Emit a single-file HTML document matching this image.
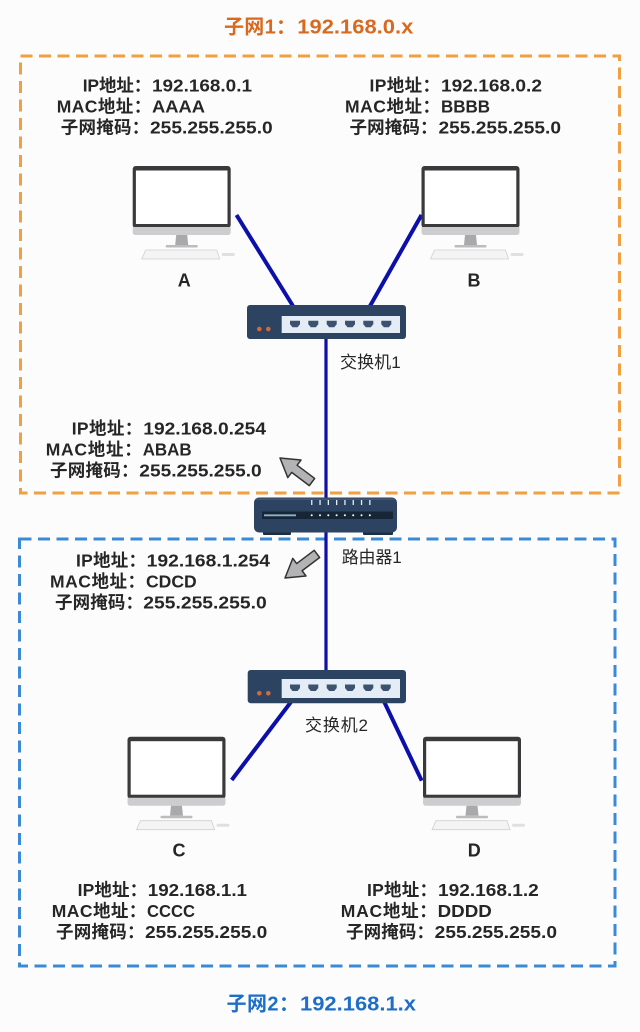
<!DOCTYPE html>
<html>
<head>
<meta charset="utf-8">
<style>
  html,body{margin:0;padding:0;background:#fdfcfd;}
  svg{display:block;}
  .t{font-family:"Liberation Sans","Noto Sans CJK SC",sans-serif;font-weight:bold;font-size:17.5px;fill:#262626;}
  .lbl{font-family:"Liberation Sans","Noto Sans CJK SC",sans-serif;font-weight:normal;font-size:17px;fill:#262626;}
  .big{font-family:"Liberation Sans","Noto Sans CJK SC",sans-serif;font-weight:bold;font-size:18px;fill:#262626;}
  .title{font-family:"Liberation Sans","Noto Sans CJK SC",sans-serif;font-weight:bold;font-size:20px;}
</style>
</head>
<body>
<svg width="640" height="1032" viewBox="0 0 640 1032" xmlns="http://www.w3.org/2000/svg">
  <rect width="640" height="1032" fill="#fdfcfd"/>

  <!-- subnet boxes -->
  <rect x="20.5" y="56" width="599" height="437" fill="none" stroke="#f0a040" stroke-width="3" stroke-dasharray="12 6.5"/>
  <rect x="19.5" y="539" width="595.5" height="427" fill="none" stroke="#3a8ad6" stroke-width="3" stroke-dasharray="12 6.5"/>

  <!-- titles -->
  <text class="title" fill="#d8691e" x="224" y="33.3" textLength="72" lengthAdjust="spacing">子网1：</text>
  <text class="title" fill="#d8691e" x="297.3" y="33.3" textLength="116" lengthAdjust="spacingAndGlyphs">192.168.0.x</text>
  <text class="title" fill="#1e6ec8" x="226.5" y="1010.5" textLength="72.5" lengthAdjust="spacing">子网2：</text>
  <text class="title" fill="#1e6ec8" x="300" y="1010.5" textLength="116" lengthAdjust="spacingAndGlyphs">192.168.1.x</text>

  <!-- connection lines -->
  <line x1="326" y1="335" x2="326" y2="672" stroke="#0c10a8" stroke-width="3.2"/>
  <line x1="236.5" y1="215" x2="293" y2="306" stroke="#0c10a8" stroke-width="4"/>
  <line x1="421.5" y1="215" x2="370" y2="306" stroke="#0c10a8" stroke-width="4"/>
  <line x1="291.7" y1="701" x2="231.7" y2="780" stroke="#0c10a8" stroke-width="4"/>
  <line x1="383.3" y1="700" x2="421.7" y2="780.7" stroke="#0c10a8" stroke-width="4"/>

  <!-- monitors -->
  <g transform="translate(132.7,166)">
    <rect x="0" y="0" width="98" height="62" rx="3" fill="#3a3a3c"/>
    <rect x="3.2" y="4.5" width="91.6" height="53.5" fill="#fff"/>
    <path d="M0 61 H98 V66 Q98 69 95 69 H3 Q0 69 0 66 Z" fill="#cdcdcf"/>
    <polygon points="43.5,69 54.5,69 55.5,79 42.5,79" fill="#a9a9ab"/>
    <rect x="33" y="79" width="32" height="2.5" rx="1" fill="#bcbcbe"/>
    <polygon points="13,84 84,84 87,93 9,93" fill="#f4f4f5" stroke="#d0d0d2" stroke-width="0.8"/>
    <rect x="89" y="87" width="13" height="3" rx="1.5" fill="#e0e0e0"/>
  </g>
  <g transform="translate(421.5,166)">
    <rect x="0" y="0" width="98" height="62" rx="3" fill="#3a3a3c"/>
    <rect x="3.2" y="4.5" width="91.6" height="53.5" fill="#fff"/>
    <path d="M0 61 H98 V66 Q98 69 95 69 H3 Q0 69 0 66 Z" fill="#cdcdcf"/>
    <polygon points="43.5,69 54.5,69 55.5,79 42.5,79" fill="#a9a9ab"/>
    <rect x="33" y="79" width="32" height="2.5" rx="1" fill="#bcbcbe"/>
    <polygon points="13,84 84,84 87,93 9,93" fill="#f4f4f5" stroke="#d0d0d2" stroke-width="0.8"/>
    <rect x="89" y="87" width="13" height="3" rx="1.5" fill="#e0e0e0"/>
  </g>
  <g transform="translate(127.5,736.7)">
    <rect x="0" y="0" width="98" height="62" rx="3" fill="#3a3a3c"/>
    <rect x="3.2" y="4.5" width="91.6" height="53.5" fill="#fff"/>
    <path d="M0 61 H98 V66 Q98 69 95 69 H3 Q0 69 0 66 Z" fill="#cdcdcf"/>
    <polygon points="43.5,69 54.5,69 55.5,79 42.5,79" fill="#a9a9ab"/>
    <rect x="33" y="79" width="32" height="2.5" rx="1" fill="#bcbcbe"/>
    <polygon points="13,84 84,84 87,93 9,93" fill="#f4f4f5" stroke="#d0d0d2" stroke-width="0.8"/>
    <rect x="89" y="87" width="13" height="3" rx="1.5" fill="#e0e0e0"/>
  </g>
  <g transform="translate(423,736.7)">
    <rect x="0" y="0" width="98" height="62" rx="3" fill="#3a3a3c"/>
    <rect x="3.2" y="4.5" width="91.6" height="53.5" fill="#fff"/>
    <path d="M0 61 H98 V66 Q98 69 95 69 H3 Q0 69 0 66 Z" fill="#cdcdcf"/>
    <polygon points="43.5,69 54.5,69 55.5,79 42.5,79" fill="#a9a9ab"/>
    <rect x="33" y="79" width="32" height="2.5" rx="1" fill="#bcbcbe"/>
    <polygon points="13,84 84,84 87,93 9,93" fill="#f4f4f5" stroke="#d0d0d2" stroke-width="0.8"/>
    <rect x="89" y="87" width="13" height="3" rx="1.5" fill="#e0e0e0"/>
  </g>

  <!-- host letters -->
  <text class="big" x="184.3" y="286.5" text-anchor="middle">A</text>
  <text class="big" x="474" y="286.5" text-anchor="middle">B</text>
  <text class="big" x="179" y="856.5" text-anchor="middle">C</text>
  <text class="big" x="474.3" y="856.5" text-anchor="middle">D</text>

  <!-- switch 1 -->
  <g transform="translate(247,305)">
    <rect x="0" y="0" width="159" height="34" rx="3" fill="#2c4461"/>
    <rect x="34.7" y="11" width="118.3" height="17" fill="#e4ecf5"/>
    <g fill="#3c5270">
      <polygon transform="translate(43,15.7)" points="0,0 10,0 10,3.5 7.5,6.5 2.5,6.5 0,3.5"/>
      <polygon transform="translate(61.3,15.7)" points="0,0 10,0 10,3.5 7.5,6.5 2.5,6.5 0,3.5"/>
      <polygon transform="translate(79.7,15.7)" points="0,0 10,0 10,3.5 7.5,6.5 2.5,6.5 0,3.5"/>
      <polygon transform="translate(98,15.7)" points="0,0 10,0 10,3.5 7.5,6.5 2.5,6.5 0,3.5"/>
      <polygon transform="translate(116.3,15.7)" points="0,0 10,0 10,3.5 7.5,6.5 2.5,6.5 0,3.5"/>
      <polygon transform="translate(134.3,15.7)" points="0,0 10,0 10,3.5 7.5,6.5 2.5,6.5 0,3.5"/>
    </g>
    <circle cx="12.3" cy="24" r="2.3" fill="#d2693a"/>
    <circle cx="21.3" cy="24" r="2.3" fill="#d2693a"/>
  </g>

  <!-- switch 2 -->
  <g transform="translate(247.7,670)">
    <rect x="0" y="0" width="158.3" height="33.3" rx="3" fill="#2c4461"/>
    <rect x="34" y="9" width="118.3" height="19" fill="#e4ecf5"/>
    <g fill="#3c5270">
      <polygon transform="translate(42.3,14.5)" points="0,0 10,0 10,3.5 7.5,6.5 2.5,6.5 0,3.5"/>
      <polygon transform="translate(60.6,14.5)" points="0,0 10,0 10,3.5 7.5,6.5 2.5,6.5 0,3.5"/>
      <polygon transform="translate(79,14.5)" points="0,0 10,0 10,3.5 7.5,6.5 2.5,6.5 0,3.5"/>
      <polygon transform="translate(97.3,14.5)" points="0,0 10,0 10,3.5 7.5,6.5 2.5,6.5 0,3.5"/>
      <polygon transform="translate(115.6,14.5)" points="0,0 10,0 10,3.5 7.5,6.5 2.5,6.5 0,3.5"/>
      <polygon transform="translate(133,14.5)" points="0,0 10,0 10,3.5 7.5,6.5 2.5,6.5 0,3.5"/>
    </g>
    <circle cx="11.6" cy="23.3" r="2.3" fill="#d2693a"/>
    <circle cx="20.6" cy="23.3" r="2.3" fill="#d2693a"/>
  </g>

  <!-- router -->
  <rect x="263" y="530" width="28" height="5" rx="1" fill="#1d2e42"/>
  <rect x="363" y="530" width="30" height="5" rx="1" fill="#1d2e42"/>
  <rect x="254" y="497.5" width="143" height="35" rx="5" fill="#2c4461"/>
  <rect x="256" y="498.5" width="139" height="1.5" rx="0.7" fill="#3f5876"/>
  <rect x="262" y="511.5" width="131" height="7.5" fill="#172637"/>
  <line x1="264" y1="515.3" x2="296" y2="515.3" stroke="#8fb4c9" stroke-width="1.8"/>
  <g fill="#ffffff">
    <circle cx="311.7" cy="515.3" r="1"/>
    <circle cx="320" cy="515.3" r="1"/>
    <circle cx="328.3" cy="515.3" r="1"/>
    <circle cx="336.6" cy="515.3" r="1"/>
    <circle cx="344.9" cy="515.3" r="1"/>
    <circle cx="353.2" cy="515.3" r="1"/>
    <circle cx="361.5" cy="515.3" r="1"/>
    <circle cx="369.8" cy="515.3" r="1"/>
  </g>
  <g fill="#e8eef4">
    <rect x="311.1" y="500" width="1.3" height="5"/>
    <rect x="319.4" y="500" width="1.3" height="5"/>
    <rect x="327.7" y="500" width="1.3" height="5"/>
    <rect x="336" y="500" width="1.3" height="5"/>
    <rect x="344.3" y="500" width="1.3" height="5"/>
    <rect x="352.6" y="500" width="1.3" height="5"/>
    <rect x="360.9" y="500" width="1.3" height="5"/>
    <rect x="369.2" y="500" width="1.3" height="5"/>
  </g>

  <!-- block arrows -->
  <polygon transform="translate(280,458) rotate(216.9) translate(-40,0)" points="0,-4.5 22,-4.5 22,-11 40,0 22,11 22,4.5 0,4.5" fill="#b3b3b5" stroke="#333" stroke-width="1.5" stroke-linejoin="round"/>
  <polygon transform="translate(285,578) rotate(143) translate(-40,0)" points="0,-4.5 22,-4.5 22,-11 40,0 22,11 22,4.5 0,4.5" fill="#b3b3b5" stroke="#333" stroke-width="1.5" stroke-linejoin="round"/>

  <!-- device labels -->
  <text class="lbl" x="340" y="368" textLength="60.7" lengthAdjust="spacing">交换机1</text>
  <text class="lbl" x="341.7" y="563" textLength="60" lengthAdjust="spacing">路由器1</text>
  <text class="lbl" x="305" y="731" textLength="63" lengthAdjust="spacing">交换机2</text>

  <!-- TL block -->
  <text class="t" x="82.7" y="91.5" textLength="68.5" lengthAdjust="spacing">IP地址：</text>
  <text class="t" x="152" y="91.5" textLength="100" lengthAdjust="spacingAndGlyphs">192.168.0.1</text>
  <text class="t" x="56.7" y="112.5" textLength="94.5" lengthAdjust="spacing">MAC地址：</text>
  <text class="t" x="152" y="112.5" textLength="53" lengthAdjust="spacingAndGlyphs">AAAA</text>
  <text class="t" x="60.7" y="133.5" textLength="88.5" lengthAdjust="spacing">子网掩码：</text>
  <text class="t" x="150" y="133.5" textLength="122.7" lengthAdjust="spacingAndGlyphs">255.255.255.0</text>

  <!-- TR block -->
  <text class="t" x="369.5" y="91.5" textLength="70.5" lengthAdjust="spacing">IP地址：</text>
  <text class="t" x="441" y="91.5" textLength="101" lengthAdjust="spacingAndGlyphs">192.168.0.2</text>
  <text class="t" x="345" y="112.5" textLength="95" lengthAdjust="spacing">MAC地址：</text>
  <text class="t" x="441" y="112.5" textLength="49" lengthAdjust="spacingAndGlyphs">BBBB</text>
  <text class="t" x="349.5" y="133.5" textLength="88" lengthAdjust="spacing">子网掩码：</text>
  <text class="t" x="438.5" y="133.5" textLength="122.5" lengthAdjust="spacingAndGlyphs">255.255.255.0</text>

  <!-- router top block -->
  <text class="t" x="71.7" y="434.5" textLength="70.5" lengthAdjust="spacing">IP地址：</text>
  <text class="t" x="143.3" y="434.5" textLength="122.7" lengthAdjust="spacingAndGlyphs">192.168.0.254</text>
  <text class="t" x="45.7" y="455.5" textLength="96" lengthAdjust="spacing">MAC地址：</text>
  <text class="t" x="142.7" y="455.5" textLength="49" lengthAdjust="spacingAndGlyphs">ABAB</text>
  <text class="t" x="50" y="476.5" textLength="88.5" lengthAdjust="spacing">子网掩码：</text>
  <text class="t" x="139.3" y="476.5" textLength="122.4" lengthAdjust="spacingAndGlyphs">255.255.255.0</text>

  <!-- router bottom block -->
  <text class="t" x="76" y="566.7" textLength="70" lengthAdjust="spacing">IP地址：</text>
  <text class="t" x="146.7" y="566.7" textLength="123.3" lengthAdjust="spacingAndGlyphs">192.168.1.254</text>
  <text class="t" x="50" y="587.7" textLength="95" lengthAdjust="spacing">MAC地址：</text>
  <text class="t" x="146" y="587.7" textLength="50.7" lengthAdjust="spacingAndGlyphs">CDCD</text>
  <text class="t" x="55" y="608.5" textLength="88" lengthAdjust="spacing">子网掩码：</text>
  <text class="t" x="143.3" y="608.5" textLength="123.4" lengthAdjust="spacingAndGlyphs">255.255.255.0</text>

  <!-- BL block -->
  <text class="t" x="77.6" y="896" textLength="69.5" lengthAdjust="spacing">IP地址：</text>
  <text class="t" x="147.8" y="896" textLength="99.2" lengthAdjust="spacingAndGlyphs">192.168.1.1</text>
  <text class="t" x="51.8" y="917" textLength="94.5" lengthAdjust="spacing">MAC地址：</text>
  <text class="t" x="147" y="917" textLength="48" lengthAdjust="spacingAndGlyphs">CCCC</text>
  <text class="t" x="56" y="938" textLength="88.5" lengthAdjust="spacing">子网掩码：</text>
  <text class="t" x="145" y="938" textLength="122.3" lengthAdjust="spacingAndGlyphs">255.255.255.0</text>

  <!-- BR block -->
  <text class="t" x="367" y="896" textLength="70" lengthAdjust="spacing">IP地址：</text>
  <text class="t" x="438" y="896" textLength="100.8" lengthAdjust="spacingAndGlyphs">192.168.1.2</text>
  <text class="t" x="340.8" y="917" textLength="96" lengthAdjust="spacing">MAC地址：</text>
  <text class="t" x="437.6" y="917" textLength="54.2" lengthAdjust="spacingAndGlyphs">DDDD</text>
  <text class="t" x="346" y="938" textLength="88" lengthAdjust="spacing">子网掩码：</text>
  <text class="t" x="434.7" y="938" textLength="122.3" lengthAdjust="spacingAndGlyphs">255.255.255.0</text>
</svg>
</body>
</html>
